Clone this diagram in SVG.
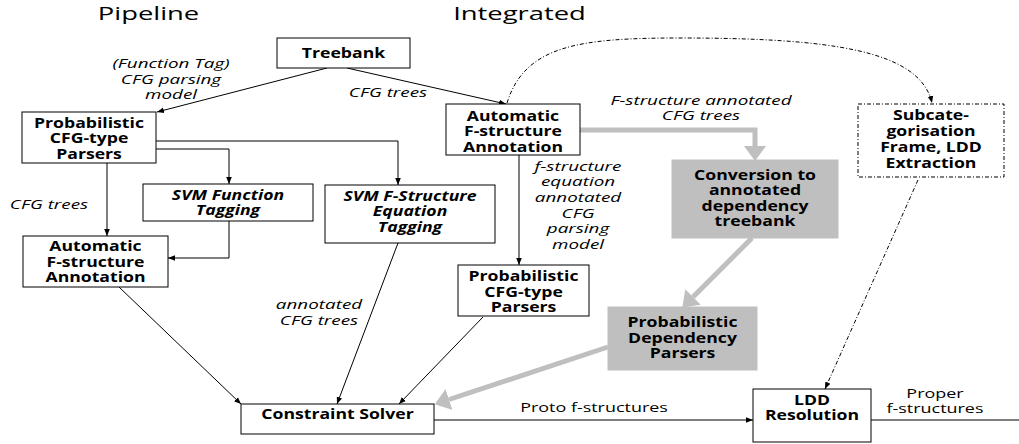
<svg xmlns="http://www.w3.org/2000/svg" width="1019" height="444" viewBox="0 0 1019 444">
<style>
text{font-family:"Open Sans","DejaVu Sans",sans-serif;fill:#000;text-anchor:middle}
.t{font-size:18.5px}
.b{font-size:14px;font-weight:bold}
.bi{font-size:14px;font-weight:bold;font-style:italic}
.i{font-size:13px;font-style:italic}
.n{font-size:13px}
.box{fill:#fff;stroke:#000;stroke-width:1}
.gbox{fill:#bfbfbf;stroke:#bfbfbf;stroke-width:1}
.dbox{fill:#fff;stroke:#000;stroke-width:1;stroke-dasharray:4 2 1 2}
.c{fill:none;stroke:#000;stroke-width:1}
.ca{fill:none;stroke:#000;stroke-width:1;marker-end:url(#a)}
.dd{fill:none;stroke:#000;stroke-width:1;stroke-dasharray:4 2 1 2;marker-end:url(#a)}
.g{fill:none;stroke:#bfbfbf;stroke-width:5;marker-end:url(#g)}
</style>
<defs>
<marker id="a" viewBox="0 0 10 10" refX="10" refY="5" markerWidth="7" markerHeight="7" markerUnits="userSpaceOnUse" orient="auto"><path d="M0,1 L10,5 L0,9z" fill="#000"/></marker>
<marker id="g" viewBox="0 0 15 22" refX="0" refY="11" markerWidth="15" markerHeight="22" markerUnits="userSpaceOnUse" orient="auto"><path d="M0,0 L15,11 L0,22z" fill="#bfbfbf"/></marker>
</defs>
<rect width="1019" height="444" fill="#fff"/>
<text class="t" transform="translate(148.5 0) scale(1.48 1)" x="0" y="20">Pipeline</text>
<text class="t" transform="translate(519.5 0) scale(1.48 1)" x="0" y="20">Integrated</text>
<g id="connectors">
<path class="ca" d="M327,68 L157,112"/>
<path class="ca" d="M347,68 L506,104"/>
<path class="dd" d="M507,103 C525,45 580,38 680,38 C830,38 920,50 932,103"/>
<path class="ca" d="M156,141 H398 V185"/>
<path class="ca" d="M156,149 H229 V184"/>
<path class="ca" d="M107,163 V236"/>
<path class="ca" d="M229,221 V258 H168"/>
<path class="ca" d="M119,287 L241,404"/>
<path class="ca" d="M398,243 L337,404"/>
<path class="ca" d="M519,155 V265"/>
<path class="ca" d="M483,317 L399,404"/>
<path class="ca" d="M434,420 H753"/>
<path class="c" d="M871,420 H1019"/>
<path class="dd" d="M918,180 L825,389"/>
<path class="g" d="M580,130 H755 V146"/>
<path class="g" d="M752,238 L693,297"/>
<path class="g" d="M608,347 L449,399.5"/>
<text class="i" transform="translate(171 0) scale(1.45 1)"><tspan x="0" y="68">(Function Tag)</tspan><tspan x="0" y="84">CFG parsing</tspan><tspan x="0" y="99">model</tspan></text>
<text class="i" transform="translate(388 0) scale(1.45 1)" x="0" y="97">CFG trees</text>
<text class="i" transform="translate(701 0) scale(1.45 1)"><tspan x="0" y="105">F-structure annotated</tspan><tspan x="0" y="120">CFG trees</tspan></text>
<text class="i" transform="translate(578 0) scale(1.45 1)"><tspan x="0" y="171">f-structure</tspan><tspan x="0" y="186">equation</tspan><tspan x="0" y="202">annotated</tspan><tspan x="0" y="218">CFG</tspan><tspan x="0" y="233">parsing</tspan><tspan x="0" y="249">model</tspan></text>
<text class="i" transform="translate(49 0) scale(1.45 1)" x="0" y="209">CFG trees</text>
<text class="i" transform="translate(319 0) scale(1.45 1)"><tspan x="0" y="309">annotated</tspan><tspan x="0" y="325">CFG trees</tspan></text>
<text class="n" transform="translate(594 0) scale(1.38 1)" x="0" y="412">Proto f-structures</text>
<text class="n" transform="translate(935 0) scale(1.38 1)"><tspan x="0" y="398">Proper</tspan><tspan x="0" y="413">f-structures</tspan></text>
</g>
<g id="treebank"><rect class="box" x="277" y="38" width="133" height="30"/><text class="b" transform="translate(343.5 0) scale(1.26 1)" x="0" y="58">Treebank</text></g>
<g id="pcfg-left"><rect class="box" x="22" y="112" width="134" height="51"/><text class="b" transform="translate(89 0) scale(1.26 1)"><tspan x="0" y="128">Probabilistic</tspan><tspan x="0" y="143.5">CFG-type</tspan><tspan x="0" y="159">Parsers</tspan></text></g>
<g id="svm-func"><rect class="box" x="143" y="184" width="170" height="37"/><text class="bi" transform="translate(228 0) scale(1.26 1)"><tspan x="0" y="200">SVM Function</tspan><tspan x="0" y="215">Tagging</tspan></text></g>
<g id="afa-left"><rect class="box" x="23" y="236" width="145" height="51"/><text class="b" transform="translate(95.5 0) scale(1.26 1)"><tspan x="0" y="251">Automatic</tspan><tspan x="0" y="267">F-structure</tspan><tspan x="0" y="282">Annotation</tspan></text></g>
<g id="svm-fstruct"><rect class="box" x="325" y="185" width="170" height="58"/><text class="bi" transform="translate(410 0) scale(1.26 1)"><tspan x="0" y="201">SVM F-Structure</tspan><tspan x="0" y="216">Equation</tspan><tspan x="0" y="232">Tagging</tspan></text></g>
<g id="afa-center"><rect class="box" x="446" y="104" width="134" height="51"/><text class="b" transform="translate(513 0) scale(1.26 1)"><tspan x="0" y="121">Automatic</tspan><tspan x="0" y="136">F-structure</tspan><tspan x="0" y="152">Annotation</tspan></text></g>
<g id="pcfg-center"><rect class="box" x="458" y="265" width="131" height="51"/><text class="b" transform="translate(523.5 0) scale(1.26 1)"><tspan x="0" y="281">Probabilistic</tspan><tspan x="0" y="297">CFG-type</tspan><tspan x="0" y="312">Parsers</tspan></text></g>
<g id="conversion"><rect class="gbox" x="672" y="160" width="166" height="78"/><text class="b" transform="translate(755 0) scale(1.26 1)"><tspan x="0" y="180">Conversion to</tspan><tspan x="0" y="195.5">annotated</tspan><tspan x="0" y="211">dependency</tspan><tspan x="0" y="226">treebank</tspan></text></g>
<g id="pdep"><rect class="gbox" x="608" y="307" width="149" height="63"/><text class="b" transform="translate(682.5 0) scale(1.26 1)"><tspan x="0" y="327">Probabilistic</tspan><tspan x="0" y="343">Dependency</tspan><tspan x="0" y="358">Parsers</tspan></text></g>
<g id="subcat"><rect class="dbox" x="858" y="104" width="146" height="73"/><text class="b" transform="translate(931 0) scale(1.26 1)"><tspan x="0" y="120">Subcate-</tspan><tspan x="0" y="136">gorisation</tspan><tspan x="0" y="152">Frame, LDD</tspan><tspan x="0" y="168">Extraction</tspan></text></g>
<g id="constraint"><rect class="box" x="241" y="404" width="193" height="30"/><text class="b" transform="translate(337.5 0) scale(1.26 1)" x="0" y="419.5">Constraint Solver</text></g>
<g id="ldd"><rect class="box" x="753" y="389" width="118" height="53"/><text class="b" transform="translate(812 0) scale(1.26 1)"><tspan x="0" y="405">LDD</tspan><tspan x="0" y="420">Resolution</tspan></text></g>
</svg>
